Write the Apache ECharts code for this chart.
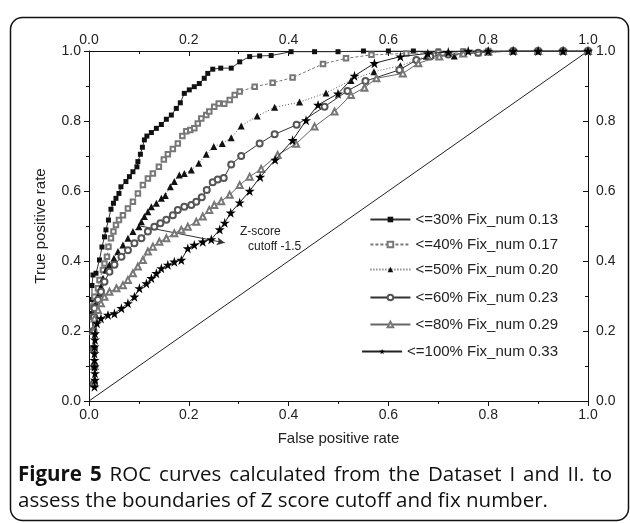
<!DOCTYPE html>
<html>
<head>
<meta charset="utf-8">
<script src="https://cdn.jsdelivr.net/npm/echarts@6/dist/echarts.min.js"></script>
<style>
  html, body { margin: 0; padding: 0; background: #fff; }
  #chart { width: 630px; height: 523px; }
</style>
</head>
<body>
<div id="chart"></div>
<script>
// tick labels (same on all four sides)
var tickLabels = ['0.0', '0.2', '0.4', '0.6', '0.8', '1.0'];

var seriesNames = [
    '<=30% Fix_num 0.13',
    '<=40% Fix_num 0.17',
    '<=50% Fix_num 0.20',
    '<=60% Fix_num 0.23',
    '<=80% Fix_num 0.29',
    '<=100% Fix_num 0.33'
];

// [false positive rate, true positive rate]
var roc30 = [[0.010,0.05],[0.012,0.10],[0.010,0.15],[0.008,0.20],[0.006,0.25],[0.006,0.29],[0.006,0.33],[0.008,0.36],
    [0.014,0.365],[0.021,0.403],[0.026,0.44],[0.031,0.469],[0.034,0.489],[0.039,0.517],[0.044,0.548],[0.049,0.565],
    [0.054,0.579],[0.060,0.593],[0.064,0.612],[0.074,0.627],[0.081,0.641],[0.088,0.655],[0.096,0.669],[0.098,0.684],
    [0.103,0.705],[0.107,0.725],[0.111,0.746],[0.116,0.757],[0.125,0.767],[0.135,0.779],[0.145,0.790],[0.155,0.805],
    [0.165,0.817],[0.175,0.836],[0.183,0.852],[0.191,0.879],[0.201,0.889],[0.211,0.898],[0.221,0.907],[0.231,0.922],
    [0.238,0.936],[0.248,0.948],[0.264,0.951],[0.285,0.951],[0.302,0.969],[0.322,0.984],[0.342,0.986],[0.365,0.987],
    [0.405,0.998],[0.452,0.998],[0.499,0.998],[0.55,1],[0.6,1],[0.65,1],[0.7,1],[0.75,1],[0.8,1],[0.85,1],[0.9,1],[0.95,1],[1,1]];

var roc40 = [[0.010,0.05],[0.011,0.10],[0.009,0.15],[0.008,0.20],[0.008,0.24],[0.008,0.269],[0.011,0.298],[0.018,0.322],
    [0.021,0.346],[0.028,0.374],[0.031,0.393],[0.036,0.412],[0.039,0.441],[0.044,0.465],[0.049,0.484],[0.054,0.503],
    [0.060,0.517],[0.068,0.531],[0.078,0.55],[0.088,0.569],[0.098,0.593],[0.108,0.617],[0.118,0.636],[0.128,0.650],
    [0.140,0.669],[0.150,0.690],[0.158,0.705],[0.168,0.720],[0.178,0.736],[0.187,0.757],[0.195,0.771],[0.203,0.774],
    [0.211,0.779],[0.218,0.793],[0.225,0.807],[0.235,0.817],[0.241,0.827],[0.251,0.841],[0.260,0.850],[0.271,0.849],
    [0.282,0.860],[0.292,0.874],[0.302,0.884],[0.332,0.898],[0.368,0.909],[0.408,0.924],[0.469,0.963],[0.515,0.979],
    [0.566,0.989],[0.636,0.993],[0.70,0.996],[0.75,0.998],[0.8,1],[0.85,1],[0.9,1],[0.95,1],[1,1]];

var roc50 = [[0.010,0.05],[0.011,0.10],[0.010,0.15],[0.010,0.20],[0.012,0.25],[0.014,0.279],[0.021,0.308],[0.024,0.327],
    [0.028,0.351],[0.034,0.374],[0.041,0.389],[0.050,0.408],[0.058,0.427],[0.068,0.446],[0.078,0.465],[0.088,0.484],
    [0.100,0.498],[0.105,0.512],[0.111,0.527],[0.118,0.541],[0.125,0.555],[0.135,0.565],[0.145,0.579],[0.153,0.587],
    [0.163,0.612],[0.171,0.627],[0.181,0.646],[0.191,0.650],[0.205,0.660],[0.220,0.679],[0.235,0.705],[0.250,0.727],
    [0.267,0.736],[0.285,0.752],[0.305,0.786],[0.337,0.814],[0.372,0.839],[0.422,0.854],[0.475,0.880],[0.525,0.916],
    [0.571,0.941],[0.624,0.958],[0.676,0.985],[0.732,0.986],[0.78,0.995],[0.85,1],[0.9,1],[0.95,1],[1,1]];

var roc60 = [[0.010,0.05],[0.011,0.10],[0.010,0.15],[0.009,0.20],[0.010,0.24],[0.011,0.265],[0.018,0.289],[0.024,0.312],
    [0.031,0.341],[0.041,0.369],[0.051,0.389],[0.065,0.412],[0.078,0.431],[0.091,0.451],[0.105,0.465],[0.118,0.484],
    [0.131,0.498],[0.143,0.508],[0.155,0.518],[0.168,0.531],[0.178,0.546],[0.191,0.555],[0.205,0.560],[0.215,0.569],
    [0.226,0.582],[0.236,0.603],[0.248,0.625],[0.258,0.633],[0.270,0.637],[0.285,0.676],[0.305,0.700],[0.342,0.736],
    [0.372,0.762],[0.416,0.789],[0.472,0.841],[0.518,0.886],[0.554,0.914],[0.622,0.946],[0.656,0.974],[0.684,0.984],
    [0.72,0.99],[0.78,0.995],[0.85,1],[0.9,1],[0.95,1],[1,1]];

var roc80 = [[0.010,0.05],[0.011,0.10],[0.010,0.15],[0.009,0.20],[0.011,0.236],[0.018,0.260],[0.024,0.279],[0.031,0.298],
    [0.041,0.312],[0.055,0.322],[0.068,0.331],[0.078,0.346],[0.088,0.365],[0.098,0.384],[0.108,0.403],[0.118,0.427],
    [0.128,0.441],[0.141,0.455],[0.155,0.465],[0.171,0.479],[0.185,0.489],[0.198,0.498],[0.215,0.512],[0.228,0.527],
    [0.241,0.546],[0.251,0.560],[0.265,0.571],[0.282,0.589],[0.302,0.617],[0.322,0.641],[0.345,0.663],[0.378,0.703],
    [0.415,0.735],[0.452,0.784],[0.492,0.827],[0.525,0.874],[0.552,0.895],[0.576,0.922],[0.629,0.936],[0.66,0.965],
    [0.702,0.984],[0.75,0.993],[0.8,0.998],[0.85,1],[0.9,1],[0.95,1],[1,1]];

var roc100 = [[0.011,0.041],[0.012,0.060],[0.012,0.079],[0.011,0.098],[0.011,0.117],[0.011,0.136],[0.011,0.155],[0.012,0.175],
    [0.012,0.193],[0.016,0.222],[0.024,0.236],[0.038,0.246],[0.051,0.250],[0.065,0.265],[0.078,0.279],[0.091,0.298],
    [0.101,0.322],[0.115,0.336],[0.125,0.351],[0.135,0.365],[0.145,0.379],[0.158,0.389],[0.171,0.398],[0.185,0.403],
    [0.198,0.436],[0.211,0.446],[0.228,0.455],[0.245,0.462],[0.262,0.490],[0.272,0.509],[0.284,0.538],[0.302,0.567],
    [0.322,0.600],[0.343,0.640],[0.373,0.689],[0.408,0.745],[0.435,0.802],[0.459,0.846],[0.499,0.878],[0.532,0.929],
    [0.572,0.965],[0.624,0.984],[0.679,0.993],[0.72,0.997],[0.76,1],[0.8,1],[0.85,1],[0.9,1],[0.95,1],[1,1]];

// chance line and the Z-score cutoff arrow
var diagonal = [[0, 0], [1, 1]];
var cutoffArrow = [[0.103, 0.500], [0.272, 0.452]];

var captionLine1 = ['Figure', '5', 'ROC', 'curves', 'calculated', 'from', 'the', 'Dataset', 'I', 'and', 'II.', 'to'];
var captionLine2 = 'assess the boundaries of Z score cutoff and fix number.';

var starPath = 'path://M50,0 L61,35 L98,35 L68,57 L79,91 L50,70 L21,91 L32,57 L2,35 L39,35 Z';

var chart = echarts.init(document.getElementById('chart'));

var font = 'Liberation Sans, Arial, sans-serif';
var capFont = 'Open Sans, Noto Sans, sans-serif';
var capSize = 20.5;

function axisLabelFmt(v) {
    return tickLabels[Math.round(v / 0.2)];
}

function makeXAxis(pos, inside, showName) {
    return {
        type: 'value', position: pos, min: 0, max: 1, interval: 0.2,
        name: showName ? 'False positive rate' : '',
        nameLocation: 'middle', nameGap: 30,
        nameTextStyle: { fontFamily: font, fontSize: 15, color: '#222' },
        axisLine: { show: true, onZero: false, lineStyle: { color: '#111', width: 1 } },
        axisTick: { show: true, inside: inside, length: 5, lineStyle: { color: '#111' } },
        minorTick: { show: true, splitNumber: 2, length: 3, lineStyle: { color: '#111' } },
        splitLine: { show: false },
        axisLabel: { formatter: axisLabelFmt, fontFamily: font, fontSize: 14, color: '#222', margin: pos === 'top' ? 4 : 7 }
    };
}

function makeYAxis(pos, inside, showName) {
    return {
        type: 'value', position: pos, min: 0, max: 1, interval: 0.2,
        name: showName ? 'True positive rate' : '',
        nameLocation: 'middle', nameGap: 41,
        nameTextStyle: { fontFamily: font, fontSize: 15, color: '#222' },
        axisLine: { show: true, onZero: false, lineStyle: { color: '#111', width: 1 } },
        axisTick: { show: true, inside: inside, length: 5, lineStyle: { color: '#111' } },
        minorTick: { show: true, splitNumber: 2, length: 3, lineStyle: { color: '#111' } },
        splitLine: { show: false },
        axisLabel: { formatter: axisLabelFmt, fontFamily: font, fontSize: 14, color: '#222', margin: 8 }
    };
}

var styles = [
    { data: roc30, symbol: 'rect', size: 5, color: '#111', line: '#333', type: 'solid' },
    { data: roc40, symbol: 'emptyRect', size: 4.5, color: '#777', line: '#777', type: [3, 2] },
    { data: roc50, symbol: 'triangle', size: 7, color: '#111', line: '#555', type: [1, 2] },
    { data: roc60, symbol: 'emptyCircle', size: 6, color: '#555', line: '#333', type: 'solid' },
    { data: roc80, symbol: 'emptyTriangle', size: 6, color: '#777', line: '#666', type: 'solid' },
    { data: roc100, symbol: starPath, size: 10, color: '#000', line: '#222', type: 'solid' }
];

var series = styles.map(function (s, i) {
    return {
        name: seriesNames[i],
        type: 'line',
        data: s.data,
        symbol: s.symbol,
        symbolSize: s.size,
        showAllSymbol: true,
        itemStyle: { color: s.color, borderWidth: 1 },
        lineStyle: { color: s.line, width: 1, type: s.type },
        z: 3 + i,
        animation: false
    };
});

series.push({
    name: 'chance',
    type: 'line',
    data: diagonal,
    symbol: 'none',
    lineStyle: { color: '#222', width: 1 },
    z: 2,
    animation: false,
    markLine: {
        silent: true,
        symbol: ['none', 'arrow'],
        symbolSize: [6, 8],
        label: { show: false },
        lineStyle: { color: '#333', width: 1, type: 'solid' },
        data: [[{ coord: cutoffArrow[0] }, { coord: cutoffArrow[1] }]]
    }
});

// one legend block per entry so the entries line up on the right edge
var legendTops = [207, 232, 257, 285, 312, 339];
var legends = seriesNames.map(function (n, i) {
    return {
        data: [n],
        right: 67,
        top: legendTops[i],
        itemWidth: 40,
        itemHeight: 7,
        itemGap: 0,
        selectedMode: false,
        textStyle: { fontFamily: font, fontSize: 15, color: '#222' }
    };
});

// caption: first line justified across the frame, word by word
var ctx = document.createElement('canvas').getContext('2d');
function wordWidth(w, bold) {
    ctx.font = (bold ? 'bold ' : '') + capSize + 'px ' + capFont;
    return ctx.measureText(w).width;
}
var capLeft = 18, capRight = 612;
var widths = captionLine1.map(function (w, i) { return wordWidth(w, i < 2); });
var total = widths.reduce(function (a, b) { return a + b; }, 0);
var gap = (capRight - capLeft - total) / (captionLine1.length - 1);
var captionGraphics = [];
var cx = capLeft;
captionLine1.forEach(function (w, i) {
    captionGraphics.push({
        type: 'text', silent: true, x: cx, y: 475,
        style: {
            text: w, verticalAlign: 'middle',
            font: (i < 2 ? 'bold ' : '') + capSize + 'px ' + capFont, fill: '#111'
        }
    });
    cx += widths[i] + gap;
});
captionGraphics.push({
    type: 'text', silent: true, x: capLeft, y: 501,
    style: { text: captionLine2, verticalAlign: 'middle', font: capSize + 'px ' + capFont, fill: '#111' }
});

var option = {
    backgroundColor: '#fff',
    animation: false,
    grid: { left: 89, top: 51, width: 499, height: 350 },
    xAxis: [makeXAxis('bottom', false, true), makeXAxis('top', true, false)],
    yAxis: [makeYAxis('left', false, true), makeYAxis('right', true, false)],
    legend: legends,
    series: series,
    graphic: [
        {
            type: 'rect', silent: true,
            shape: { x: 10.5, y: 17.5, width: 618, height: 503, r: 12 },
            style: { fill: 'none', stroke: '#111', lineWidth: 1.5 }
        },
        {
            type: 'text', silent: true, x: 240, y: 232,
            style: { text: 'Z-score', verticalAlign: 'middle', font: '12px ' + font, fill: '#222' }
        },
        {
            type: 'text', silent: true, x: 248, y: 247,
            style: { text: 'cutoff -1.5', verticalAlign: 'middle', font: '12px ' + font, fill: '#222' }
        }
    ].concat(captionGraphics)
};

chart.setOption(option);
</script>
</body>
</html>
